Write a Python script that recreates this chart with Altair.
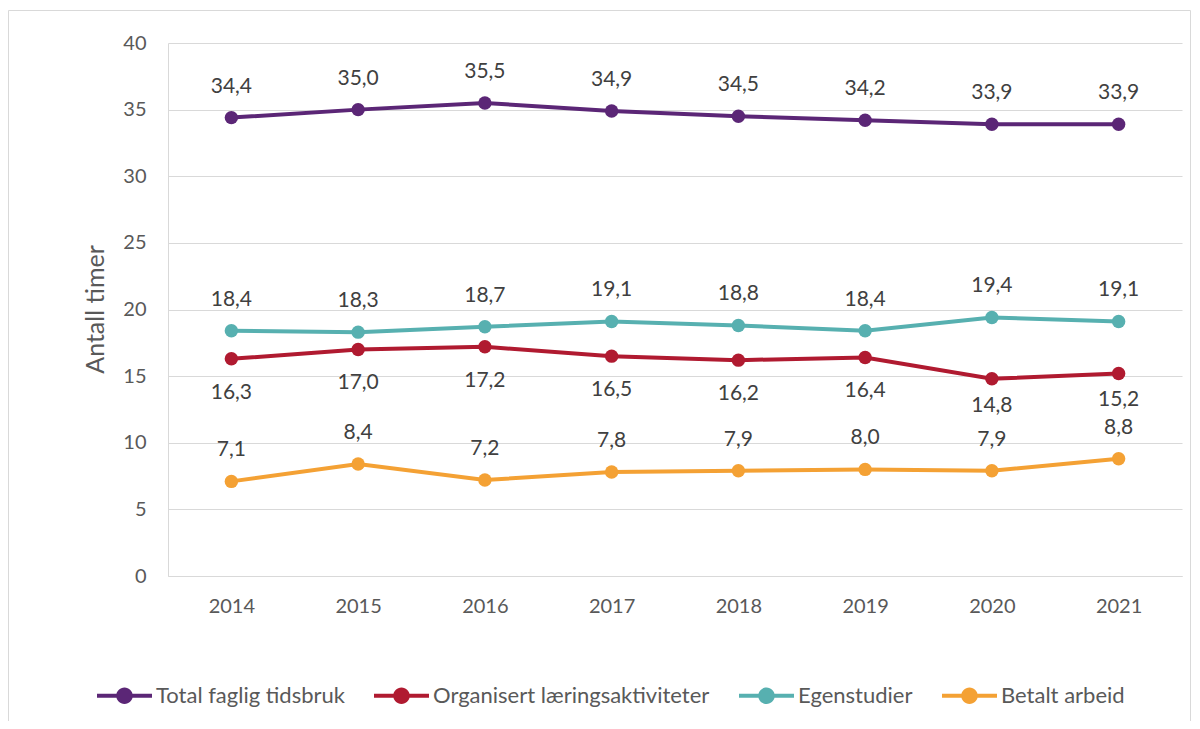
import altair as alt
import pandas as pd

years = ["2014", "2015", "2016", "2017", "2018", "2019", "2020", "2021"]
series_names = ["Total faglig tidsbruk", "Organisert læringsaktiviteter", "Egenstudier", "Betalt arbeid"]
total = [34.4, 35.0, 35.5, 34.9, 34.5, 34.2, 33.9, 33.9]
organisert = [16.3, 17.0, 17.2, 16.5, 16.2, 16.4, 14.8, 15.2]
egen = [18.4, 18.3, 18.7, 19.1, 18.8, 18.4, 19.4, 19.1]
betalt = [7.1, 8.4, 7.2, 7.8, 7.9, 8.0, 7.9, 8.8]
colors = ["#5B2676", "#B01A30", "#57B0B0", "#F4A134"]

rows = []
for name, vals in zip(series_names, [total, organisert, egen, betalt]):
    for y, v in zip(years, vals):
        rows.append({"year": y, "value": v, "series": name})
df = pd.DataFrame(rows)

FONT = "Lato"
TXT = "#595959"

x = alt.X("year:O", sort=years, title=None,
          scale=alt.Scale(type="point", padding=0.5),
          axis=alt.Axis(labelAngle=0, labelFontSize=20, labelColor=TXT, labelFont=FONT,
                        ticks=False, domain=True, domainColor="#d9d9d9", labelPadding=20,
                        grid=False))
y = alt.Y("value:Q", title="Antall timer",
          scale=alt.Scale(domain=[0, 40], nice=False),
          axis=alt.Axis(values=[0, 5, 10, 15, 20, 25, 30, 35, 40], labelFontSize=20,
                        labelColor=TXT, labelFont=FONT, ticks=False, domain=True,
                        domainColor="#d9d9d9", gridColor="#d9d9d9", labelPadding=22,
                        titleFontSize=25, titleFont=FONT, titleColor=TXT,
                        titleFontWeight="normal", titleX=-60, titleY=266))

color_scale = alt.Scale(domain=series_names, range=colors)
legend_path = ("M-1,-0.073 L1,-0.073 L1,0.073 L-1,0.073 Z "
               "M-0.3,0 A0.3,0.3 0 1,1 0.3,0 A0.3,0.3 0 1,1 -0.3,0 Z")

base = alt.Chart(df)

line_layers = [
    base.transform_filter(alt.datum.series == name).mark_line(strokeWidth=4, color=col).encode(
        x=x, y=y)
    for name, col in zip(series_names, colors)
]

points = base.mark_circle(size=180, opacity=1).encode(
    x=x, y=y,
    color=alt.Color("series:N", scale=color_scale, sort=series_names,
                    legend=alt.Legend(title=None, orient="none", direction="horizontal",
                                      columns=4, legendX=-71, legendY=625,
                                      symbolType=legend_path, symbolSize=3025,
                                      symbolStrokeWidth=0, symbolOpacity=1,
                                      labelFontSize=22, labelFont=FONT, labelColor=TXT,
                                      labelLimit=400, labelOffset=4, columnPadding=29,
                                      padding=0)),
)

label_expr = "replace(format(datum.value, '.1f'), '.', ',')"
text_style = dict(fontSize=21, font=FONT, color="#404040", baseline="middle")

text_above = base.transform_filter(
    alt.datum.series != "Organisert læringsaktiviteter"
).transform_calculate(lbl=label_expr).mark_text(dy=-31, **text_style).encode(
    x=x, y=y, text="lbl:N")

text_below = base.transform_filter(
    (alt.datum.series == "Organisert læringsaktiviteter") & (alt.datum.year < "2020")
).transform_calculate(lbl=label_expr).mark_text(dy=34, **text_style).encode(
    x=x, y=y, text="lbl:N")

text_below_late = base.transform_filter(
    (alt.datum.series == "Organisert læringsaktiviteter") & (alt.datum.year >= "2020")
).transform_calculate(lbl=label_expr).mark_text(dy=27, **text_style).encode(
    x=x, y=y, text="lbl:N")

border = alt.Chart(alt.Data(values=[{}])).mark_rect(
    fillOpacity=0, stroke="#d9d9d9", strokeWidth=1
).encode(x=alt.value(-159.5), x2=alt.value(1022.5), y=alt.value(-32.5), y2=alt.value(700))

chart = alt.layer(border, *line_layers, points, text_above, text_below, text_below_late).properties(
    width=1014, height=533,
    autosize=alt.AutoSizeParams(type="none"),
    padding={"left": 160, "top": 35, "right": 10, "bottom": 145},
    background="white",
).configure_view(stroke=None)

chart.save("out.html", embed_options={"renderer": "svg", "actions": False})
